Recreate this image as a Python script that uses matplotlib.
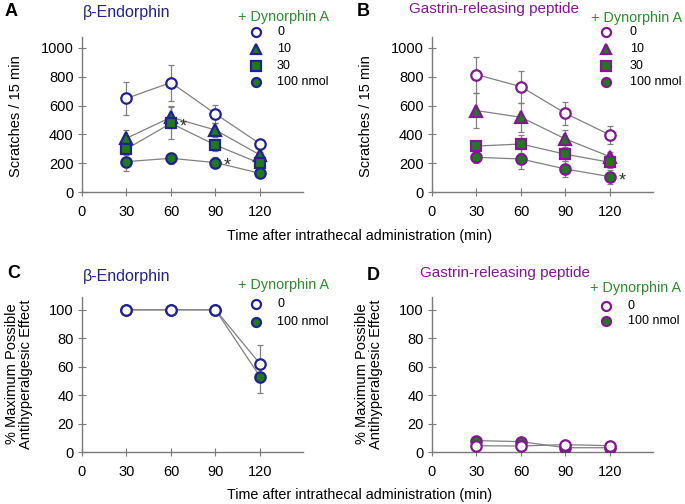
import matplotlib
matplotlib.use('Agg')
import matplotlib.pyplot as plt
from matplotlib.lines import Line2D

plt.rcParams['font.family'] = ['Liberation Sans', 'DejaVu Sans']

W, H = 685, 504

times = [30, 60, 90, 120]
xticks = [0, 30, 60, 90, 120]
doses = ['0', '10', '30', '100 nmol']
doses_c = ['0', '100 nmol']

# Panel A: beta-endorphin + dynorphin A (scratches / 15 min)
endo_0 = [650, 760, 542, 335]
endo_0_se = [115, 125, 65, 25]
endo_10 = [373, 519, 430, 257]
endo_10_se = [60, 75, 50, 20]
endo_30 = [299, 477, 326, 199]
endo_30_se = [40, 110, 40, 20]
endo_100 = [211, 234, 204, 130]
endo_100_se = [65, 40, 40, 15]

# Panel B: GRP + dynorphin A
grp_0 = [815, 731, 546, 396]
grp_0_se = [125, 110, 78, 60]
grp_10 = [565, 519, 368, 245]
grp_10_se = [120, 100, 60, 30]
grp_30 = [319, 333, 262, 206]
grp_30_se = [30, 60, 50, 40]
grp_100 = [241, 229, 160, 106]
grp_100_se = [40, 70, 55, 50]

# Panel C: %MPE beta-endorphin
mpe_endo_0 = [100, 100, 100, 62]
mpe_endo_0_se = [0, 0, 0, 13]
mpe_endo_100 = [100, 100, 100, 53]
mpe_endo_100_se = [0, 0, 0, 11.5]

# Panel D: %MPE GRP
mpe_grp_0 = [4.4, 4.2, 5.2, 4.4]
mpe_grp_0_se = [1, 1, 1, 1]
mpe_grp_100 = [8.0, 7.3, 3.0, 3.0]
mpe_grp_100_se = [1.5, 1.5, 1, 1]

NAVY = '#22228c'
PURPLE = '#7e1a8c'
GREEN = '#1f7a1f'
TGREEN = '#2e8b2e'
GRAY = '#808080'
AX = '#7a7a7a'


def fx(x):
    return x / W


def fy(y):
    return 1 - y / H


fig = plt.figure(figsize=(6.85, 5.04), dpi=100)


def make_ax(l, t, r, b):
    return fig.add_axes([fx(l), fy(b), fx(r) - fx(l), fy(t) - fy(b)])


def style(ax, ylim, yticks):
    ax.set_xlim(0, 149)
    ax.set_ylim(0, ylim)
    for s in ['top', 'right']:
        ax.spines[s].set_visible(False)
    for s in ['left', 'bottom']:
        ax.spines[s].set_color(AX)
        ax.spines[s].set_linewidth(1.0)
    ax.set_xticks(xticks)
    ax.set_yticks(yticks)
    ax.tick_params(direction='inout', length=6, width=0.8, color=AX,
                   labelsize=10.5, labelcolor='black')
    ax.tick_params(axis='x', pad=6)
    ax.tick_params(axis='y', pad=3)


def series(ax, y, se, marker, face, edge, ms, z):
    ax.plot(times, y, color=GRAY, lw=0.9, zorder=1)
    ax.errorbar(times, y, yerr=se, fmt='none', ecolor=GRAY, elinewidth=0.9,
                capsize=2.2, capthick=0.9, zorder=2)
    ax.plot(times, y, linestyle='none', marker=marker, ms=ms, mfc=face,
            mec=edge, mew=1.6, zorder=z)


markers = ['o', '^', 's', 'o']
faces = ['white', GREEN, GREEN, GREEN]
sizes = [7.5, 8, 7, 7.5]
order_z = [10, 4, 5, 6]

axA = make_ax(82, 37, 303, 192)
axB = make_ax(432, 37, 653, 192)
axC = make_ax(82, 297, 303, 452)
axD = make_ax(432, 297, 653, 452)

for ax in (axA, axB):
    style(ax, 1076, [0, 200, 400, 600, 800, 1000])
for ax in (axC, axD):
    style(ax, 109, [0, 20, 40, 60, 80, 100])

setsA = [(endo_0, endo_0_se), (endo_10, endo_10_se), (endo_30, endo_30_se), (endo_100, endo_100_se)]
setsB = [(grp_0, grp_0_se), (grp_10, grp_10_se), (grp_30, grp_30_se), (grp_100, grp_100_se)]
for i, (y, se) in enumerate(setsA):
    series(axA, y, se, markers[i], faces[i], NAVY, sizes[i], order_z[i])
for i, (y, se) in enumerate(setsB):
    series(axB, y, se, markers[i], faces[i], PURPLE, sizes[i], order_z[i])

series(axC, mpe_endo_100, mpe_endo_100_se, 'o', GREEN, NAVY, 7.5, 5)
series(axC, mpe_endo_0, mpe_endo_0_se, 'o', 'white', NAVY, 7.5, 10)
series(axD, mpe_grp_100, mpe_grp_100_se, 'o', GREEN, PURPLE, 7.5, 5)
series(axD, mpe_grp_0, mpe_grp_0_se, 'o', 'white', PURPLE, 7.5, 10)

# significance asterisks
axA.annotate('*', (times[1], endo_30[1]), xytext=(6, -6), textcoords='offset points',
             fontsize=13, color='#333333', zorder=12)
axA.annotate('*', (times[2], endo_100[2]), xytext=(6, -6), textcoords='offset points',
             fontsize=13, color='#333333', zorder=12)
axB.annotate('*', (times[3], grp_100[3]), xytext=(6, -6), textcoords='offset points',
             fontsize=13, color='#333333', zorder=12)

# panel letters
for lab, x, y in [('A', 5, 12), ('B', 357, 11), ('C', 7, 273), ('D', 367, 275)]:
    fig.text(fx(x), fy(y), lab, fontsize=13, fontweight='bold', va='center', ha='left')

# titles
fig.text(fx(83), fy(13), 'β-Endorphin', color=NAVY, fontsize=11.5, va='center', ha='left')
fig.text(fx(409), fy(9), 'Gastrin-releasing peptide', color=PURPLE, fontsize=11, va='center', ha='left')
fig.text(fx(83), fy(276), 'β-Endorphin', color=NAVY, fontsize=11.5, va='center', ha='left')
fig.text(fx(420), fy(273), 'Gastrin-releasing peptide', color=PURPLE, fontsize=11, va='center', ha='left')

for x, y in [(238, 17), (591, 18), (238, 285), (590, 288)]:
    fig.text(fx(x), fy(y), '+ Dynorphin A', color=TGREEN, fontsize=10.4, va='center', ha='left')


def legend(mx, tx, ys, labels, mks, fcs, edge):
    for y, lab, m, f in zip(ys, labels, mks, fcs):
        fig.add_artist(Line2D([fx(mx)], [fy(y)], transform=fig.transFigure, marker=m,
                              ms=6.5, mfc=f, mec=edge, mew=1.6, linestyle='none'))
        fig.text(fx(tx), fy(y), lab, fontsize=9, va='center', ha='left')


legend(256, 277, [32, 49, 66, 82], doses, markers, faces, NAVY)
legend(606, 630, [32, 49, 66, 82], doses, markers, faces, PURPLE)
legend(256, 277, [304, 322], doses_c, ['o', 'o'], ['white', GREEN], NAVY)
legend(606, 628, [306, 321], doses_c, ['o', 'o'], ['white', GREEN], PURPLE)

# axis labels
fig.text(fx(16), fy(116), 'Scratches / 15 min', rotation=90, fontsize=10.5, va='center', ha='center')
fig.text(fx(366), fy(116), 'Scratches / 15 min', rotation=90, fontsize=10.5, va='center', ha='center')
fig.text(fx(19), fy(374), '% Maximum Possible\nAntihyperalgesic Effect', rotation=90,
         fontsize=10.5, va='center', ha='center', linespacing=1.0)
fig.text(fx(369), fy(374), '% Maximum Possible\nAntihyperalgesic Effect', rotation=90,
         fontsize=10.5, va='center', ha='center', linespacing=1.0)
fig.text(fx(360), fy(236), 'Time after intrathecal administration (min)', fontsize=10.3,
         va='center', ha='center')
fig.text(fx(360), fy(495), 'Time after intrathecal administration (min)', fontsize=10.3,
         va='center', ha='center')

fig.savefig('out.png', dpi=100)
